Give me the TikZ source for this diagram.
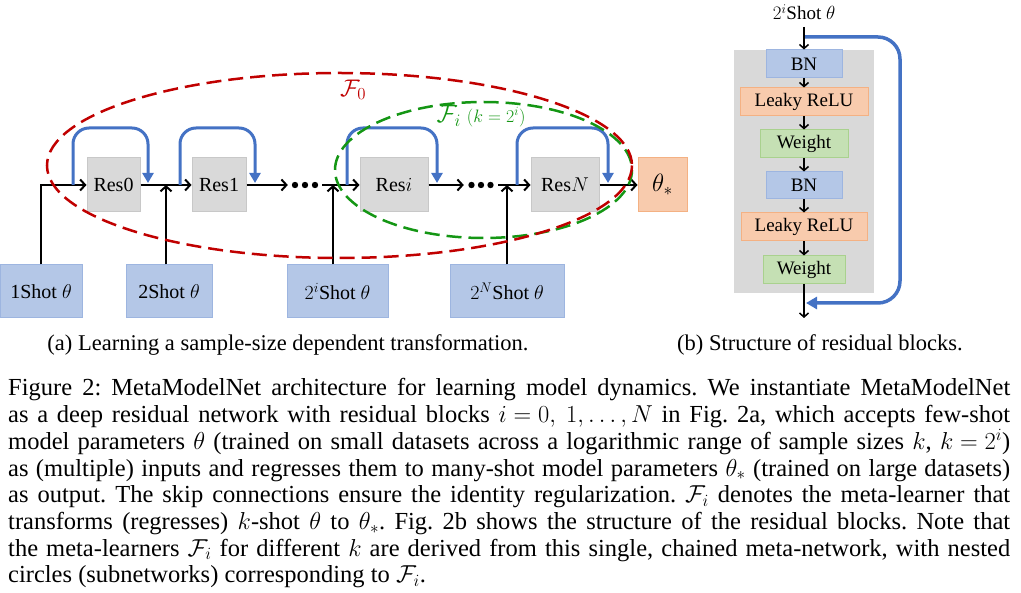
\RequirePackage{fix-cm}
\documentclass[tikz,border=0pt]{standalone}
\usepackage{fontspec}
\setmainfont{Liberation Serif}
\usetikzlibrary{arrows.meta}
\newcommand{\myfs}[1]{\fontsize{#1}{#1}\selectfont}
\newcommand{\sm}[1]{\smash{#1}}
\definecolor{resgray}{HTML}{D9D9D9}
\definecolor{resborder}{HTML}{C8C8C8}
\definecolor{inblue}{HTML}{B4C7E7}
\definecolor{inborder}{HTML}{9DB5E0}
\definecolor{orfill}{HTML}{F8CBAD}
\definecolor{orborder}{HTML}{F4B183}
\definecolor{grfill}{HTML}{C5E0B4}
\definecolor{grborder}{HTML}{A9D18E}
\definecolor{skipblue}{HTML}{4472C4}
\definecolor{redc}{HTML}{C00000}
\definecolor{greenc}{HTML}{149614}
\definecolor{bggray}{HTML}{D9D9D9}
\frenchspacing
\tikzset{
  resbox/.style={draw=resborder, line width=1, fill=resgray, minimum height=54, inner sep=0, font={\myfs{20}}},
  inbox/.style={draw=inborder, line width=1, fill=inblue, minimum height=53, inner sep=0, font={\myfs{20}}},
  arr/.style={draw=black, line width=2, -{Straight Barb[length=5pt,width=11pt]}},
  skipline/.style={draw=skipblue, line width=3, rounded corners=16, -{Triangle[length=10pt,width=11pt]}},
  dotnode/.style={minimum width=34, minimum height=8, inner sep=0},
  rbox/.style={line width=1, minimum height=28, inner sep=0, font={\myfs{19}}},
  bnbox/.style={rbox, draw=inborder, fill=inblue, minimum width=76},
  lrbox/.style={rbox, draw=orborder, fill=orfill},
  wbox/.style={rbox, draw=grborder, fill=grfill},
  arrs/.style={draw=black, line width=1.5, -{Straight Barb[length=4pt,width=9pt]}},
  skipr/.style={draw=skipblue, line width=3.5, rounded corners=22, -{Triangle[length=11pt,width=12pt]}},
  ell/.style={line width=2.5, dash pattern=on 15pt off 7pt},
  capline/.style={anchor=base west, inner sep=0, font={\myfs{24.5}\frenchspacing}},
}
\begin{document}
\begin{tikzpicture}[x=1pt,y=-1pt]
\useasboundingbox (0,0) rectangle (1021,593);

% ---------- panel (a) ----------
\node[resbox, minimum width=53] (res0) at (113.5,185) {Res0};
\node[resbox, minimum width=54] (res1) at (219,185) {Res1};
\node[resbox, minimum width=68] (resi) at (394,185) {Res$i$};
\node[resbox, minimum width=68] (resN) at (565,185) {Res$N$};
\node[draw=orborder, line width=1, fill=orfill, minimum width=49, minimum height=54, inner sep=0, font={\myfs{25}}] (ts) at (662.5,185) {$\theta_*$};

\node[inbox, minimum width=82] (in1) at (41,291.5) {1Shot $\theta$};
\node[inbox, minimum width=86] (in2) at (169,291.5) {2Shot $\theta$};
\node[inbox, minimum width=101] (in3) at (337.5,291.5) {$2^i$Shot $\theta$};
\node[inbox, minimum width=114] (in4) at (507,291.5) {$2^N$Shot $\theta$};

\node[dotnode] (d1) at (305,185) {};
\node[dotnode] (d2) at (481,185) {};
\foreach \dx in {-10,0,10} {
  \fill ([xshift=\dx]d1.center) circle (3.2);
  \fill ([xshift=\dx*0.95]d2.center) circle (3.2);
}

\coordinate (j2) at (166,185);
\coordinate (j3) at (333,185);
\coordinate (j4) at (507,185);

\draw[arr] (in1.north) |- (res0.west);
\draw[arr] (res0.east) -- (res1.west);
\draw[arr] (res1.east) -- (d1.west);
\draw[arr] (d1.east) -- (resi.west);
\draw[arr] (resi.east) -- (d2.west);
\draw[arr] (d2.east) -- (resN.west);
\draw[arr] (resN.east) -- (ts.west);
\draw[arr] (in2.north -| j2) -- (j2);
\draw[arr] (in3.north -| j3) -- (j3);
\draw[arr] (in4.north -| j4) -- (j4);

% skip connections
\coordinate (s0) at (73,185);  \coordinate (e0) at (148,183);
\coordinate (s1) at (180,185); \coordinate (e1) at (255,183);
\coordinate (si) at (347,185); \coordinate (ei) at (437,183);
\coordinate (sN) at (517,185); \coordinate (eN) at (608,183);
\draw[skipline] (s0) -- ++(0,-57) -| (e0);
\draw[skipline] (s1) -- ++(0,-57) -| (e1);
\draw[skipline] (si) -- ++(0,-57) -| (ei);
\draw[skipline] (sN) -- ++(0,-57) -| (eN);

% nested meta-learners
\draw[ell, greenc] (483.5,170) ellipse [x radius=148.5, y radius=68];
\draw[ell, redc] (339.5,165.5) ellipse [x radius=292.5, y radius=92.5];
\node[text=redc, inner sep=0, font={\myfs{24}}] (f0) at (353,90) {$\mathcal{F}_0$};
\node[text=greenc, inner sep=0] (fi) at (481,116) {{\myfs{25}$\mathcal{F}_i$}\hspace{6pt}{\myfs{18}$(k = 2^i)$}};

% ---------- panel (b) ----------
\node[fill=bggray, minimum width=140, minimum height=243, inner sep=0] (bg) at (804,171.5) {};
\node[bnbox] (bn1) at (804,64) {BN};
\node[lrbox, minimum width=128] (lr1) at (804,102) {Leaky ReLU};
\node[wbox, minimum width=88] (w1) at (804,144) {Weight};
\node[bnbox, minimum height=27] (bn2) at (804,185.5) {BN};
\node[lrbox, minimum width=126] (lr2) at (804,227) {Leaky ReLU};
\node[wbox, minimum width=82] (w2) at (804,270) {Weight};
\node[anchor=base, inner sep=0, font={\myfs{19}}] (tin) at (804,20) {$2^i$Shot $\theta$};
\coordinate (tstart) at (804,27);
\coordinate (bout) at (804,318);

\draw[arrs] (tstart) -- (bn1.north);
\draw[arrs] (bn1.south) -- (lr1.north);
\draw[arrs] (lr1.south) -- (w1.north);
\draw[arrs] (w1.south) -- (bn2.north);
\draw[arrs] (bn2.south) -- (lr2.north);
\draw[arrs] (lr2.south) -- (w2.north);
\draw[arrs] (w2.south) -- (bout);

\coordinate (bs) at (805,37);
\coordinate (be) at (806,303);
\draw[skipr] (bs) -- ++(95,0) -- ++(0,266) -- (be);

% ---------- captions ----------
\node[anchor=base, inner sep=0, font={\myfs{22.5}}] (capa) at (288,351) {(a) Learning a sample-size dependent transformation.};
\node[anchor=base, inner sep=0, font={\myfs{22.5}}] (capb) at (820,351) {(b) Structure of residual blocks.};

\node[capline] (c1) at (8,396) {\makebox[1002pt][s]{Figure 2: MetaModelNet architecture for learning model dynamics. We instantiate MetaModelNet}};
\node[capline] (c2) at (8,422.7) {\makebox[1002pt][s]{as a deep residual network with residual blocks \sm{$i=0,\ 1,\ldots,N$} in Fig. 2a, which accepts few-shot}};
\node[capline] (c3) at (8,449.4) {\makebox[1002pt][s]{model parameters \sm{$\theta$} (trained on small datasets across a logarithmic range of sample sizes \sm{$k$}, \sm{$k=2^i$})}};
\node[capline] (c4) at (8,476.1) {\makebox[1002pt][s]{as (multiple) inputs and regresses them to many-shot model parameters \sm{$\theta_*$} (trained on large datasets)}};
\node[capline] (c5) at (8,502.8) {\makebox[1002pt][s]{as output. The skip connections ensure the identity regularization. \sm{$\mathcal{F}_i$} denotes the meta-learner that}};
\node[capline] (c6) at (8,529.5) {\makebox[1002pt][s]{transforms (regresses) \sm{$k$}-shot \sm{$\theta$} to \sm{$\theta_*$}. Fig. 2b shows the structure of the residual blocks. Note that}};
\node[capline] (c7) at (8,556.2) {\makebox[1002pt][s]{the meta-learners \sm{$\mathcal{F}_i$} for different \sm{$k$} are derived from this single, chained meta-network, with nested}};
\node[capline] (c8) at (8,582.9) {circles (subnetworks) corresponding to \sm{$\mathcal{F}_i$}.};
\end{tikzpicture}
\end{document}
